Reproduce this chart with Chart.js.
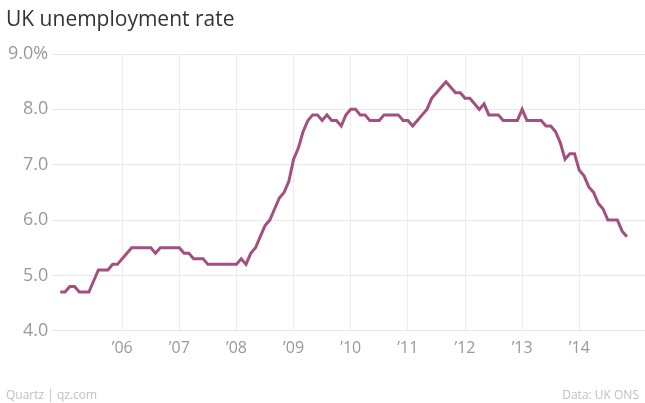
<!DOCTYPE html>
<html><head><meta charset="utf-8">
<script src="https://cdn.jsdelivr.net/npm/chart.js@4"></script>
<style>
body{margin:0;background:#fff;font-family:"Open Sans",sans-serif}
#wrap{position:relative;width:645px;height:403px}
#title{position:absolute;left:6px;top:4px;font-size:21px;color:#333}
.foot{position:absolute;top:386px;font-size:12px;color:#c0c0c0}
</style></head><body>
<div id="wrap">
<canvas id="c" width="645" height="403"></canvas>
<div id="title">UK unemployment rate</div>
<div class="foot" style="left:6px">Quartz | qz.com</div>
<div class="foot" style="right:6px">Data: UK ONS</div>
</div>
<script>
// monthly, Dec 2004 .. Nov 2014
const rate=[4.7,
4.7,4.8,4.8,4.7,4.7,4.7,4.9,5.1,5.1,5.1,5.2,5.2,
5.3,5.4,5.5,5.5,5.5,5.5,5.5,5.4,5.5,5.5,5.5,5.5,
5.5,5.4,5.4,5.3,5.3,5.3,5.2,5.2,5.2,5.2,5.2,5.2,
5.2,5.3,5.2,5.4,5.5,5.7,5.9,6.0,6.2,6.4,6.5,6.7,
7.1,7.3,7.6,7.8,7.9,7.9,7.8,7.9,7.8,7.8,7.7,7.9,
8.0,8.0,7.9,7.9,7.8,7.8,7.8,7.9,7.9,7.9,7.9,7.8,
7.8,7.7,7.8,7.9,8.0,8.2,8.3,8.4,8.5,8.4,8.3,8.3,
8.2,8.2,8.1,8.0,8.1,7.9,7.9,7.9,7.8,7.8,7.8,7.8,
8.0,7.8,7.8,7.8,7.8,7.7,7.7,7.6,7.4,7.1,7.2,7.2,
6.9,6.8,6.6,6.5,6.3,6.2,6.0,6.0,6.0,5.8,5.7];
const yearTicks=[13,25,37,49,61,73,85,97,109];
const yearLabels=["’06","’07","’08","’09","’10","’11","’12","’13","’14"];
const yTicks=[4,5,6,7,8,9];

new Chart(document.getElementById('c'),{
type:'line',
data:{datasets:[{data:rate.map((v,i)=>({x:i,y:v})),borderColor:'#a4507f',borderWidth:3,pointRadius:0,tension:0}]},
options:{
responsive:false,animation:false,
layout:{padding:{top:54,right:0,bottom:37,left:4}},
plugins:{legend:{display:false},tooltip:{enabled:false}},
scales:{
x:{type:'linear',min:-1.7,max:122.8,
afterBuildTicks:s=>{s.ticks=yearTicks.map(v=>({value:v}));},
grid:{color:'#ececec',drawTicks:false},border:{display:false},
ticks:{padding:8,color:'#999',font:{family:'Open Sans',size:16},callback:(v)=>yearLabels[yearTicks.indexOf(v)]}},
y:{min:4,max:9,
afterBuildTicks:s=>{s.ticks=yTicks.map(v=>({value:v}));},
grid:{color:'#e6e6e6',drawTicks:false},border:{display:false},
ticks:{padding:4,color:'#999',font:{family:'Open Sans',size:18},callback:v=>v===9?'9.0%':v.toFixed(1)}}
}}
});
</script>
</body></html>
